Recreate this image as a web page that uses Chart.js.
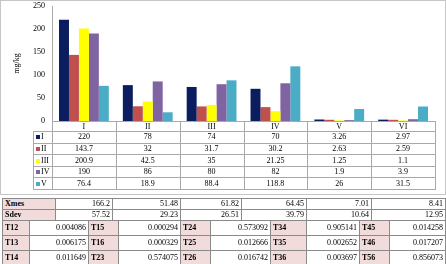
<!DOCTYPE html>
<html>
<head>
<meta charset="utf-8">
<script src="https://cdn.jsdelivr.net/npm/chart.js@4"></script>
<style>
  body { margin: 0; background: #fff; width: 446px; height: 264px; overflow: hidden; position: relative; font-family: "Liberation Serif", serif; }
  #frame { position: absolute; left: 0; top: 0; width: 444px; height: 193px; border: 1px solid #c6c6c6; pointer-events: none; }
  #chartBox { position: absolute; left: 0; top: 0; width: 446px; height: 196px; }
  table.stats { position: absolute; left: 2px; border-collapse: collapse; table-layout: fixed; font-size: 8px; color: #000; }
  table.stats td { border: 1px solid #8a8a8a; padding: 0 2px; text-align: right; white-space: nowrap; overflow: hidden; }
  table.stats td.lab { background: #f2dcdb; font-weight: bold; text-align: left; }
  #meanTable { top: 198px; }
  #meanTable td { height: 10px; line-height: 10px; }
  #tTable { top: 220px; }
  #tTable td { height: 14px; line-height: 14px; }
</style>
</head>
<body>
<div id="chartBox"><canvas id="chart" width="446" height="196"></canvas></div>
<div id="frame"></div>
<table class="stats" id="meanTable"></table>
<table class="stats" id="tTable"></table>
<script>
// categories and series (mg/kg)
const categories = ['I', 'II', 'III', 'IV', 'V', 'VI'];
const seriesNames = ['I', 'II', 'III', 'IV', 'V'];
const seriesI = [220, 78, 74, 70, 3.26, 2.97];
const seriesII = [143.7, 32, 31.7, 30.2, 2.63, 2.59];
const seriesIII = [200.9, 42.5, 35, 21.25, 1.25, 1.1];
const seriesIV = [190, 86, 80, 82, 1.9, 3.9];
const seriesV = [76.4, 18.9, 88.4, 118.8, 26, 31.5];
const seriesColors = ['#0b1d5e', '#c0504d', '#ffff00', '#8064a2', '#4bacc6'];
const yTicks = [0, 50, 100, 150, 200, 250];

// summary rows
const xmes = [166.2, 51.48, 61.82, 64.45, 7.01, 8.41];
const sdev = [57.52, 29.23, 26.51, 39.79, 10.64, 12.95];

// test values, grouped by table row
const tRow1Labels = ['T12', 'T15', 'T24', 'T34', 'T45'];
const tRow1Values = [0.004086, 0.000294, 0.573092, 0.905141, 0.014258];
const tRow2Labels = ['T13', 'T16', 'T25', 'T35', 'T46'];
const tRow2Values = [0.006175, 0.000329, 0.012666, 0.002652, 0.017207];
const tRow3Labels = ['T14', 'T23', 'T26', 'T36', 'T56'];
const tRow3Values = [0.011649, 0.574075, 0.016742, 0.003697, 0.856073];

const allSeries = [seriesI, seriesII, seriesIII, seriesIV, seriesV];
const FONT = '"Liberation Serif", "Times New Roman", serif';
const gridColor = '#a9a9a9';

// data table under the plot, drawn from the x scale
const dataTablePlugin = {
  id: 'dataTable',
  afterDraw(chart) {
    const ctx = chart.ctx;
    const x = chart.scales.x;
    const area = chart.chartArea;
    const n = categories.length;
    const colW = (area.right - area.left) / n;
    const headTop = area.bottom;
    const headBottom = headTop + 10;
    const rowH = 11.6;
    const tableBottom = headBottom + rowH * allSeries.length;
    const legLeft = 33;

    ctx.save();
    ctx.strokeStyle = gridColor;
    ctx.lineWidth = 1;
    ctx.beginPath();
    // verticals between categories
    for (let i = 0; i <= n; i++) {
      const px = Math.round(area.left + i * colW) + 0.5;
      ctx.moveTo(px, headTop);
      ctx.lineTo(px, tableBottom);
    }
    ctx.moveTo(legLeft + 0.5, headBottom);
    ctx.lineTo(legLeft + 0.5, tableBottom);
    // horizontals
    for (let r = 0; r <= allSeries.length; r++) {
      const py = Math.round(headBottom + r * rowH) + 0.5;
      ctx.moveTo(legLeft, py);
      ctx.lineTo(Math.round(area.right) + 1, py);
    }
    ctx.stroke();

    ctx.font = '8px ' + FONT;
    ctx.fillStyle = '#000';
    ctx.textBaseline = 'middle';
    allSeries.forEach((vals, r) => {
      const cy = headBottom + r * rowH + rowH / 2 + 0.5;
      ctx.fillStyle = seriesColors[r];
      ctx.fillRect(legLeft + 3, Math.round(cy) - 2, 4, 4);
      ctx.fillStyle = '#000';
      ctx.textAlign = 'left';
      ctx.fillText(seriesNames[r], legLeft + 8, cy);
      ctx.textAlign = 'center';
      vals.forEach((v, i) => {
        ctx.fillText(String(v), x.getPixelForValue(i), cy);
      });
    });
    ctx.restore();
  }
};

new Chart(document.getElementById('chart'), {
  type: 'bar',
  data: {
    labels: categories,
    datasets: allSeries.map((vals, i) => ({
      label: seriesNames[i],
      data: vals,
      backgroundColor: seriesColors[i],
      borderWidth: 0,
      categoryPercentage: 0.78,
      barPercentage: 1.0
    }))
  },
  options: {
    responsive: false,
    animation: false,
    devicePixelRatio: 1,
    layout: { padding: { top: 6, right: 11, bottom: 0, left: 0 } },
    plugins: { legend: { display: false }, tooltip: { enabled: false } },
    scales: {
      x: {
        grid: { display: false, drawTicks: false, tickLength: 0 },
        border: { display: true, color: gridColor },
        ticks: { font: { family: FONT, size: 8 }, color: '#000', padding: 1, maxRotation: 0 },
        afterFit(scale) { scale.height = 75; scale.paddingLeft = 0; scale.paddingRight = 0; }
      },
      y: {
        min: 0,
        max: 250,
        afterBuildTicks(scale) { scale.ticks = yTicks.map(v => ({ value: v })); },
        grid: { display: false, drawTicks: false, tickLength: 0 },
        border: { display: true, color: gridColor },
        ticks: { font: { family: FONT, size: 8 }, color: '#000', padding: 7 },
        title: { display: true, text: 'mg/kg', font: { family: FONT, size: 8 }, color: '#000', padding: { top: 12, bottom: 0 } },
        afterFit(scale) { scale.width = 52; scale.paddingTop = 0; scale.paddingBottom = 0; }
      }
    }
  },
  plugins: [dataTablePlugin]
});

// summary tables
function cell(text, cls, w) {
  return '<td' + (cls ? ' class="' + cls + '"' : '') + ' style="width:' + w + 'px">' + text + '</td>';
}
const meanWidths = [53, 57, 68, 61, 65, 65, 74];
let meanHtml = '';
[['Xmes', xmes], ['Sdev', sdev]].forEach(([lab, vals]) => {
  meanHtml += '<tr>' + cell(lab, 'lab', meanWidths[0] - 5);
  vals.forEach((v, i) => { meanHtml += cell(String(v), '', meanWidths[i + 1] - 5); });
  meanHtml += '</tr>';
});
document.getElementById('meanTable').innerHTML = meanHtml;

const tLabW = [27, 30, 30, 36, 30];
const tValW = [59, 62, 60, 53, 56];
let tHtml = '';
[[tRow1Labels, tRow1Values], [tRow2Labels, tRow2Values], [tRow3Labels, tRow3Values]].forEach(([labs, vals]) => {
  tHtml += '<tr>';
  labs.forEach((lab, i) => {
    tHtml += cell(lab, 'lab', tLabW[i] - 5) + cell(vals[i].toFixed(6), '', tValW[i] - 5);
  });
  tHtml += '</tr>';
});
document.getElementById('tTable').innerHTML = tHtml;
</script>
</body>
</html>
